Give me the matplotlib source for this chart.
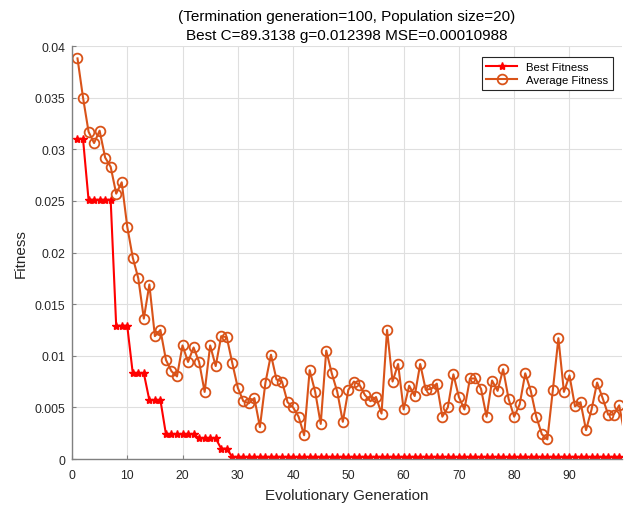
import matplotlib.pyplot as plt

plt.rcParams['font.family'] = ['Liberation Sans', 'DejaVu Sans']

generations = list(range(1, 101))

best_fitness = [
    0.0310, 0.0310, 0.0251, 0.0251, 0.0251, 0.0251, 0.0251, 0.0129, 0.0129, 0.0129,
    0.0083, 0.0083, 0.0083, 0.0057, 0.0057, 0.0057, 0.0024, 0.0024, 0.0024, 0.0024,
    0.0024, 0.0024, 0.0020, 0.0020, 0.0020, 0.0020, 0.0010, 0.0010, 0.0002, 0.0002,
    0.0002, 0.0002, 0.0002, 0.0002, 0.0002, 0.0002, 0.0002, 0.0002, 0.0002, 0.0002,
    0.0002, 0.0002, 0.0002, 0.0002, 0.0002, 0.0002, 0.0002, 0.0002, 0.0002, 0.0002,
    0.0002, 0.0002, 0.0002, 0.0002, 0.0002, 0.0002, 0.0002, 0.0002, 0.0002, 0.0002,
    0.0002, 0.0002, 0.0002, 0.0002, 0.0002, 0.0002, 0.0002, 0.0002, 0.0002, 0.0002,
    0.0002, 0.0002, 0.0002, 0.0002, 0.0002, 0.0002, 0.0002, 0.0002, 0.0002, 0.0002,
    0.0002, 0.0002, 0.0002, 0.0002, 0.0002, 0.0002, 0.0002, 0.0002, 0.0002, 0.0002,
    0.0002, 0.0002, 0.0002, 0.0002, 0.0002, 0.0002, 0.0002, 0.0002, 0.0002, 0.0002,
]

avg_fitness = [
    0.0388, 0.0350, 0.0317, 0.0306, 0.0318, 0.0292, 0.0283, 0.0257, 0.0268, 0.0225,
    0.0195, 0.0175, 0.0136, 0.0169, 0.0119, 0.0125, 0.0096, 0.0085, 0.0080, 0.0110,
    0.0094, 0.0108, 0.0094, 0.0065, 0.0110, 0.0090, 0.0119, 0.0118, 0.0093, 0.0069,
    0.0056, 0.0054, 0.0059, 0.0031, 0.0074, 0.0101, 0.0077, 0.0075, 0.0055, 0.0050,
    0.0041, 0.0023, 0.0086, 0.0065, 0.0034, 0.0105, 0.0083, 0.0065, 0.0036, 0.0067,
    0.0075, 0.0072, 0.0062, 0.0056, 0.0060, 0.0044, 0.0125, 0.0075, 0.0092, 0.0048,
    0.0071, 0.0061, 0.0092, 0.0067, 0.0068, 0.0073, 0.0041, 0.0050, 0.0082, 0.0060,
    0.0048, 0.0078, 0.0078, 0.0068, 0.0041, 0.0076, 0.0066, 0.0087, 0.0058, 0.0041,
    0.0053, 0.0083, 0.0066, 0.0041, 0.0024, 0.0019, 0.0067, 0.0117, 0.0065, 0.0081,
    0.0051, 0.0055, 0.0028, 0.0048, 0.0074, 0.0059, 0.0043, 0.0043, 0.0052, 0.0023,
]

x_ticks = [0, 10, 20, 30, 40, 50, 60, 70, 80, 90]
y_ticks = [0, 0.005, 0.01, 0.015, 0.02, 0.025, 0.03, 0.035, 0.04]
y_tick_labels = ['0', '0.005', '0.01', '0.015', '0.02', '0.025', '0.03', '0.035', '0.04']

axis_color = '#262626'

fig = plt.figure(figsize=(6.28, 5.06), dpi=100)
ax = fig.add_axes([0.1146, 0.0909, 0.8758, 0.8162])

ax.plot(generations, best_fitness, color='#ff0000', linewidth=1.5,
        marker='*', markersize=6, markevery=list(range(99)), label='Best Fitness')
ax.plot(generations, avg_fitness, color='#d95319', linewidth=1.5,
        marker='o', markersize=7, markerfacecolor='none', markeredgewidth=1.3,
        markevery=list(range(99)), label='Average Fitness')

ax.set_xlim(0, 99.5)
ax.set_ylim(0, 0.04)
ax.set_xticks(x_ticks)
ax.set_yticks(y_ticks)
ax.set_yticklabels(y_tick_labels)

ax.grid(True, color='#dfdfdf', linewidth=0.8)
ax.set_axisbelow(True)
for side in ['top', 'right']:
    ax.spines[side].set_visible(False)
for side in ['left', 'bottom']:
    ax.spines[side].set_color('#808080')
    ax.spines[side].set_linewidth(1.0)
ax.tick_params(direction='in', length=3, colors='#808080', labelcolor=axis_color,
               labelsize=8.7)
ax.tick_params(axis='x', pad=7.5)
ax.tick_params(axis='y', pad=5)

ax.set_xlabel('Evolutionary Generation', fontsize=11, color=axis_color, labelpad=5)
ax.set_ylabel('Fitness', fontsize=11, color=axis_color, labelpad=5)
ax.set_title('(Termination generation=100, Population size=20)\n'
             'Best C=89.3138 g=0.012398 MSE=0.00010988',
             fontsize=11, color='black', linespacing=1.45, pad=5)

leg = ax.legend(loc='upper right', fontsize=8.2, fancybox=False, framealpha=1,
                edgecolor=axis_color, borderpad=0.4, handlelength=2.7,
                labelspacing=0.3, bbox_to_anchor=(0.994, 0.987))
leg.get_frame().set_linewidth(0.8)

plt.savefig('out.png', dpi=100)
plt.close()
